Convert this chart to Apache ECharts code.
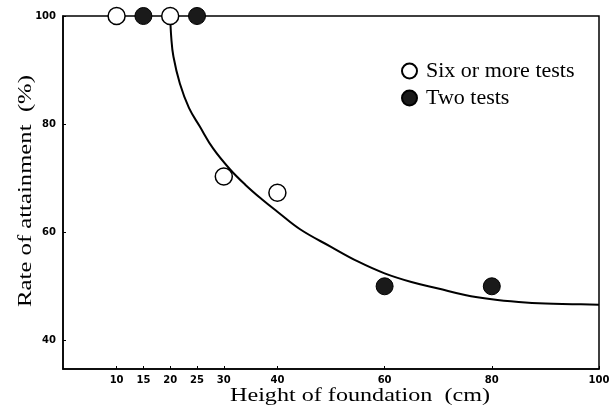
<!DOCTYPE html>
<html><head><meta charset="utf-8">
<script src="https://cdn.jsdelivr.net/npm/echarts@6/dist/echarts.min.js"></script>
<style>html,body{margin:0;padding:0;background:#fff}#c{width:615px;height:410px}</style>
</head><body><div id="c"></div>
<script>
var xTicks = [10, 15, 20, 25, 30, 40, 60, 80, 100];
var yTicks = [40, 60, 80, 100];
var sixOrMore = [[10, 100], [20, 100], [30, 70.3], [40, 67.3]];
var twoTests = [[15, 100], [25, 100], [60, 50], [80, 50]];
var curveX = [20, 20.2, 20.6, 21.8, 23.5, 25.5, 28, 31.1, 34, 37.1, 40, 44.3, 50, 55, 60, 65, 70, 75, 80, 85, 90, 95, 100];
var curveY = [100, 96, 92.5, 87.5, 83, 79.6, 75.5, 71.7, 68.8, 66.1, 63.8, 60.5, 57.3, 54.6, 52.4, 50.8, 49.6, 48.4, 47.6, 47.1, 46.8, 46.7, 46.6];

var curve = curveX.map(function (x, i) { return [x, curveY[i]]; });
var chart = echarts.init(document.getElementById('c'));
var serif = '"Liberation Serif","DejaVu Serif",serif';
var tickFont = { color: '#000', fontSize: 10, fontWeight: 'bold', fontFamily: '"DejaVu Sans", sans-serif' };
chart.setOption({
  animation: false,
  backgroundColor: '#fff',
  grid: { left: 63, right: 16, top: 16, bottom: 41, show: true, borderColor: '#000', borderWidth: 1.5 },
  xAxis: {
    type: 'value', min: 0, max: 100,
    axisLine: { lineStyle: { color: '#000', width: 1.5 } },
    axisTick: { inside: true, length: 3, customValues: xTicks, lineStyle: { color: '#000' } },
    axisLabel: Object.assign({ customValues: xTicks, margin: 6 }, tickFont),
    splitLine: { show: false }
  },
  yAxis: {
    type: 'value', min: 34.7, max: 100,
    axisLine: { show: true, lineStyle: { color: '#000', width: 1.5 } },
    axisTick: { show: true, inside: true, length: 3, customValues: yTicks, lineStyle: { color: '#000' } },
    axisLabel: Object.assign({ customValues: yTicks, margin: 7 }, tickFont),
    splitLine: { show: false }
  },
  legend: {
    orient: 'vertical', left: 396, top: 55, itemGap: 5, itemWidth: 15, itemHeight: 15,
    data: [{ name: 'Six or more tests', icon: 'circle' }, { name: 'Two tests', icon: 'circle' }],
    textStyle: { fontFamily: serif, fontSize: 22, color: '#000', padding: [0, 0, 0, 4] }
  },
  graphic: [
    { type: 'text', rotation: Math.PI / 2, x: 26, y: 191, scaleX: 1.3,
      style: { text: 'Rate of attainment  (%)', font: '19px ' + serif, fill: '#000', align: 'center', verticalAlign: 'middle' } },
    { type: 'text', x: 360, y: 396, scaleX: 1.27,
      style: { text: 'Height of foundation  (cm)', font: '19px ' + serif, fill: '#000', align: 'center', verticalAlign: 'middle' } }
  ],
  series: [
    { type: 'line', data: curve, smooth: 0.4, showSymbol: false, symbol: 'none', z: 1,
      lineStyle: { color: '#000', width: 2 } },
    { name: 'Six or more tests', type: 'scatter', data: sixOrMore, symbolSize: 17, z: 3,
      itemStyle: { color: '#fff', borderColor: '#000', borderWidth: 1.5, opacity: 1 } },
    { name: 'Two tests', type: 'scatter', data: twoTests, symbolSize: 17, z: 3,
      itemStyle: { color: '#1a1a1a', borderColor: '#000', borderWidth: 1, opacity: 1 } }
  ]
});
</script></body></html>
